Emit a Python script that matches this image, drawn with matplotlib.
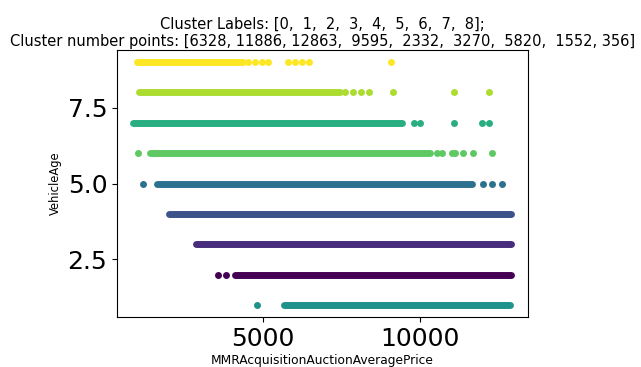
import matplotlib
matplotlib.use("Agg")
import matplotlib.pyplot as plt
import numpy as np

cluster_labels = [0, 1, 2, 3, 4, 5, 6, 7, 8]
cluster_counts = [6328, 11886, 12863, 9595, 2332, 3270, 5820, 1552, 356]
cluster_age = [2, 3, 4, 5, 1, 7, 6, 8, 9]
# dense band of points per cluster: start / end price
band_start = [4108, 2866, 2016, 1614, 5669, 870, 1401, 1051, 997]
band_end = [12888, 12888, 12888, 11646, 12866, 9417, 10318, 7452, 4363]
# isolated points per cluster (price)
isolated = [
    [3557, 3822],
    [],
    [],
    [1188, 12016, 12283, 12602],
    [4818],
    [9819, 10000, 11073, 11984, 12207],
    [1029, 10531, 10690, 11009, 11115, 11380, 11678, 12303],
    [7611, 7857, 8121, 8385, 9150, 11073, 12197],
    [4522, 4745, 4968, 5159, 5796, 6019, 6242, 6465, 9076],
]

fig = plt.figure(figsize=(6.41, 3.67), dpi=100)
ax = fig.add_axes([0.1825, 0.1362, 0.6412, 0.7276])

cmap = plt.get_cmap("viridis")
norm = plt.Normalize(0, 8)
for lab, age, s, e, iso in zip(cluster_labels, cluster_age, band_start, band_end, isolated):
    c = cmap(norm(lab))
    ax.plot([s, e], [age, age], color=c, lw=5.0, solid_capstyle="round")
    if iso:
        ax.scatter(iso, [age] * len(iso), color=c, s=25, linewidths=0)

ax.set_xlim(350, 13440)
ax.set_ylim(0.6, 9.4)
ax.set_xticks([5000, 10000])
ax.set_yticks([2.5, 5.0, 7.5])
ax.tick_params(axis="both", labelsize=18)
ax.set_xlabel("MMRAcquisitionAuctionAveragePrice", fontsize=8.8, labelpad=2)
ax.set_ylabel("VehicleAge", fontsize=8.3)
title = ("Cluster Labels: [0,  1,  2,  3,  4,  5,  6,  7,  8];\n"
         "Cluster number points: [6328, 11886, 12863,  9595,  2332,  3270,  5820,  1552, 356]")
ax.set_title(title, fontsize=10.5, pad=3)

fig.savefig("out.png", dpi=100)
